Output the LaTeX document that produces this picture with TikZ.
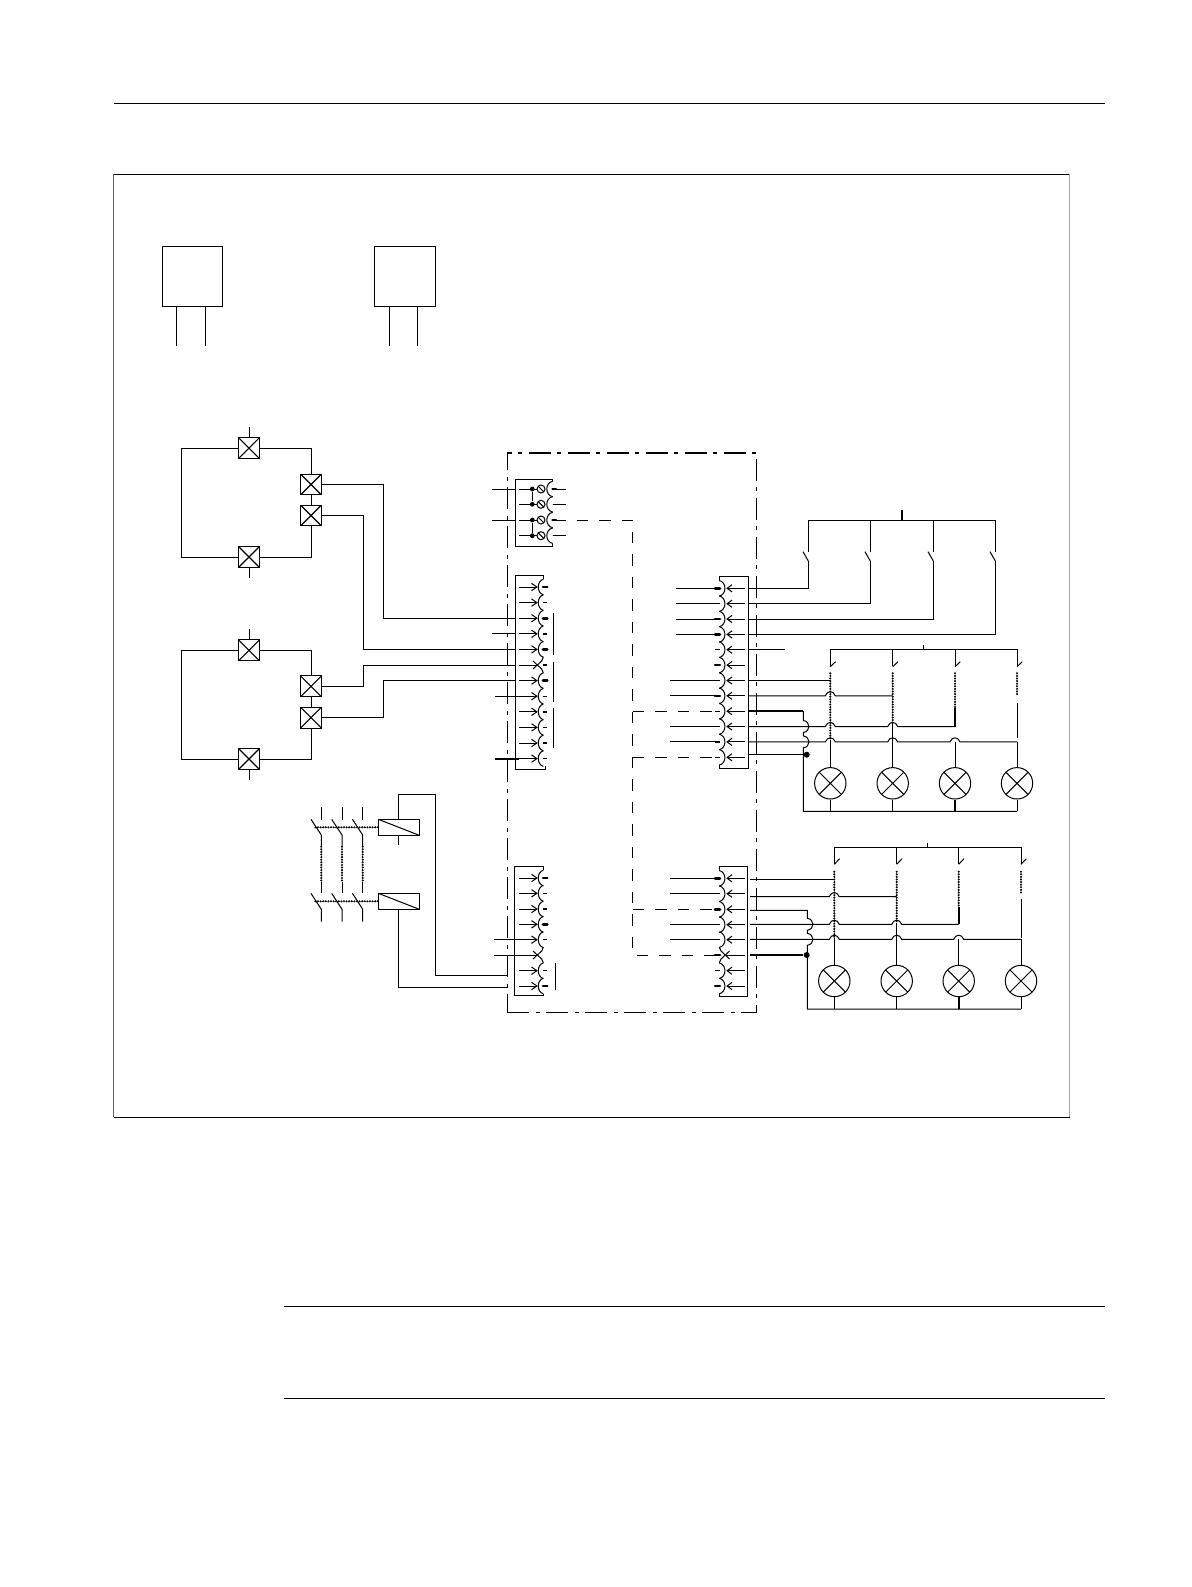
\documentclass[tikz,border=0pt]{standalone}
\usepackage{tikz}

\newcommand{\lterm}[2]{
  \draw (519,#1) -- (536.7,#1);
  \draw (531.5,#1-3.7) -- (536.9,#1) -- (531.5,#1+3.7);
  \draw (543.3,#1-7.8) .. controls (536.6,#1-6) and (536.6,#1+6) .. (543.3,#1+7.8);
  \draw[#2] (543,#1) -- (547.3,#1);
}
\newcommand{\lcross}[1]{
  \draw (519,#1) -- (537,#1);
  \draw (543.3,#1-7.8) -- (541.7,#1-4) -- (533,#1+4);
  \draw (543.3,#1+7.8) -- (541.7,#1+4) -- (533,#1-4);
}
\newcommand{\rterm}[2]{
  \draw (745,#1) -- (727.3,#1);
  \draw (732,#1-3.6) -- (727.1,#1) -- (732,#1+3.6);
  \draw (719.3,#1-7.8) .. controls (726.8,#1-6) and (726.8,#1+6) .. (719.3,#1+7.8);
  \draw[#2] (715,#1) -- (720,#1);
}
\newcommand{\rcross}[2]{
  \draw (745,#1) -- (726,#1);
  \draw (719.3,#1-7.8) -- (721,#1-4) -- (729.5,#1+4);
  \draw (719.3,#1+7.8) -- (721,#1+4) -- (729.5,#1-4);
  \draw[#2] (715,#1) -- (720,#1);
}
\newcommand{\hop}[2]{-- ([xshift=-5pt]#1|-#2) .. controls ([shift={(-3,-5.5)}]#1|-#2) and ([shift={(3,-5.5)}]#1|-#2) .. ([xshift=5pt]#1|-#2)}
\newcommand{\vhop}[2]{-- (#1,#2-6) .. controls (#1+7.5,#2-5) and (#1+7.5,#2+5) .. (#1,#2+6)}

\begin{document}
\begin{tikzpicture}[x=1pt, y=-1pt, line width=1pt,
  xmark/.style={path picture={\draw (path picture bounding box.north west) -- (path picture bounding box.south east) (path picture bounding box.south west) -- (path picture bounding box.north east);}},
  plainbox/.style={rectangle, draw, inner sep=0pt, minimum width=60pt, minimum height=60pt},
  square/.style={rectangle, draw, inner sep=0pt, minimum size=20.8pt, line width=1.1pt, xmark},
  lamp/.style={circle, draw, inner sep=0pt, minimum size=31.4pt, xmark},
  relay/.style={rectangle, draw, inner sep=0pt, minimum width=41pt, minimum height=16pt, path picture={\draw (path picture bounding box.north west) -- (path picture bounding box.south east);}},
  blob/.style={circle, fill, inner sep=0pt, minimum size=#1},
  panel/.style={rectangle, draw, inner sep=0pt, minimum width=249.2pt, minimum height=559.3pt, dash pattern=on 22pt off 7pt on 4pt off 6pt, line width=1.2pt},
  fat/.style={line width=2.6pt, line cap=round},
  lean/.style={line width=1.4pt},
  heavy/.style={line width=1.9pt},
  dashes/.style={dash pattern=on 11.5pt off 11pt},
  bead/.style={line width=2.3pt, line cap=round, dash pattern=on 0pt off 2.6pt}]
  \useasboundingbox (0,0) rectangle (1191,1587);

  \draw (113.5,103.5) -- (1105,103.5);
  \draw (283.5,1306) -- (1105,1306);
  \draw (283.5,1398) -- (1105,1398);
  \draw (113.5,174.3) -- (1069.5,174.3);
  \draw (113.5,1117.3) -- (1069.5,1117.3);
  \draw[black!60] (113.5,174.3) -- (113.5,1117.3);
  \draw[black!35] (1069.5,174.3) -- (1069.5,1117.3);

  \node[plainbox] (A) at (192.3,276.3) {};
  \node[plainbox, minimum width=61pt] (B) at (404.8,276.3) {};
  \draw ([xshift=-16pt]A.south) -- ++(0,39.4);
  \draw ([xshift=13pt]A.south) -- ++(0,39.4);
  \draw ([xshift=-15.5pt]B.south) -- ++(0,39.4);
  \draw ([xshift=12.5pt]B.south) -- ++(0,39.4);

  \node[panel] (P) at (631.9,732.6) {};

  \foreach \n/\ya/\yc/\yd/\yb in {1/448.2/484.5/515.5/557, 2/650.3/686.3/717.7/759} {
    \node[square] (q\n a) at (249,\ya) {};
    \node[square] (q\n b) at (249,\yb) {};
    \node[square] (q\n c) at (311,\yc) {};
    \node[square] (q\n d) at (311,\yd) {};
    \draw (q\n a.west) -- ++(-56.8,0) |- (q\n b.west);
    \draw (q\n a.east) -| (q\n c.north);
    \draw (q\n c.south) -- (q\n d.north);
    \draw (q\n d.south) |- (q\n b.east);
    \draw (q\n a.north) -- ++(0,-10.5);
    \draw (q\n b.south) -- ++(0,10.5);
  }

  % top terminal block
  \draw (552.7,481.2) -- (552.7,479) -- (515.3,479) -- (515.3,546.3) -- (552.7,546.3) -- (552.7,543.5);
  \foreach \i/\y/\s in {0/489/fat, 1/504.3/lean, 2/520/fat, 3/535.7/lean} {
    \coordinate (t\i) at (515.3,\y);
    \draw (519,\y) -- (537,\y);
    \node[blob=4.8pt] (td\i) at (532.3,\y) {};
    \node[circle, draw, inner sep=0pt, minimum size=8pt, path picture={\draw (path picture bounding box.north west) -- (path picture bounding box.south east);}] (tc\i) at (541,\y) {};
    \draw (552.7,\y-7.8) .. controls (544.8,\y-6) and (544.8,\y+6) .. (552.7,\y+7.8);
    \draw[\s] (552.5,\y) -- (556,\y);
    \draw (552.5,\y) -- (565.5,\y);
  }
  \draw (td0) -- (td1);
  \draw (td2) -- (td3);
  \draw (t0) -- ++(-23,0);
  \draw (t2) -- ++(-23,0);

  % first left block
  \draw (543.3,579.2) -- (543.3,575) -- (515.3,575) -- (515.3,769.3) -- (545,769.3) -- (545,766.4);
  \foreach \i/\y/\s in {0/587/fat, 1/602.6/lean, 2/618.2/fat, 3/633.8/lean, 4/649.4/fat, 6/680.6/fat, 7/696.2/lean, 8/711.8/lean, 9/727.4/lean, 10/743/lean, 11/758.6/lean} {
    \coordinate (a\i) at (515.3,\y);
    \lterm{\y}{\s}
  }
  \coordinate (a5) at (515.3,665);
  \lcross{665}
  \draw[lean] (543,665) -- (547.3,665);
  \draw (553.3,613) -- (553.3,655);
  \draw (553.3,661.7) -- (553.3,702.3);
  \draw (553.3,708.3) -- (553.3,748.3);
  \draw (a3) -- ++(-23,0);
  \draw (519,696.2) -- ++(-24.3,0);
  \draw[heavy] (519,758.6) -- ++(-24.3,0);

  \draw (q1c.east) -- ++(61.6,0) |- (a2);
  \draw (q1d.east) -- ++(41.6,0) |- (a4);
  \draw (q2c.east) -- ++(41.6,0) |- (a5);
  \draw (q2d.east) -- ++(61.6,0) |- (a6);

  % first right block
  \draw (719.3,580.5) -- (719.3,576.3) -- (748.3,576.3) -- (748.3,768.3) -- (719.3,768.3) -- (719.3,765.1);
  \foreach \i/\y/\s in {0/588.3/fat, 1/603.7/lean, 2/619/fat, 3/634.4/fat, 4/649.7/lean, 5/665.1/fat, 6/680.5/lean, 7/695.8/fat, 8/711.2/lean, 9/726.5/lean, 10/741.9/lean, 11/757.3/lean} {
    \coordinate (c\i) at (748.3,\y);
    \coordinate (cl\i) at (715,\y);
    \rterm{\y}{\s}
  }
  \foreach \i in {0,1,2,3} \draw (cl\i) -- ++(-39,0);
  \foreach \i in {6,7,9,10} \draw (cl\i) -- ++(-45.5,0);

  % feeder switches
  \draw (808.3,520.3) -- (995.3,520.3);
  \draw[heavy] (902,520.3) -- (902,510);
  \foreach \i/\x in {0/808.3, 1/870.3, 2/933.3, 3/995.3} {
    \coordinate (k\i) at (\x,561);
    \draw (\x,520.3) -- (\x,551.7);
    \draw (\x-5.3,551.7) -- (k\i);
    \draw (c\i) -| (k\i);
  }
  \draw (c4) -- ++(36.4,0);

  % first lamp group
  \node[lamp] (L1) at (830.3,783.3) {};
  \node[lamp] (L2) at (892.7,783.3) {};
  \node[lamp] (L3) at (955,783.3) {};
  \node[lamp] (L4) at (1017,783.3) {};
  \coordinate (busL) at (1017,811.3);
  \draw (830.3,649.3) -- (1017,649.3);
  \draw (923.3,649.3) -- (923.3,645);
  \foreach \x/\b in {830.3/740, 892.7/723, 955/708, 1017/695} {
    \draw (\x,649.3) -- (\x,665.7);
    \draw (\x,666.7) -- (\x+5.3,661.7);
    \draw[bead] (\x,673.3) -- (\x,\b);
  }
  \draw[heavy] (955,708) -- (c9-|L3);
  \draw (1017,703) -- (1017,738);
  \draw (c6) -- (L1|-c6);
  \draw (c7) \hop{L1}{c7} -- (L2|-c7);
  \draw (c9) \hop{L1}{c9} \hop{L2}{c9} -- (L3|-c9);
  \draw (c10) \hop{L1}{c10} \hop{L2}{c10} \hop{L3}{c10} -- (L4|-c10);
  \draw (830.3,740) -- (L1.north);
  \draw (892.7,723) -- (L2.north);
  \draw (L3|-c10) -- (L3.north);
  \draw (L4|-c10) -- (L4.north);
  \draw[heavy] (c8) -- (803.3,711.2);
  \draw (803.3,711.2) \vhop{803.3}{726.5} \vhop{803.3}{741.9} |- (busL);
  \node[blob=6pt] (dotL) at (806.7,754.7) {};
  \draw (c11|-dotL) -- (dotL);
  \foreach \n in {L1,L2,L4} \draw (\n.south) -- (\n|-busL);
  \draw[heavy] (L3.south) -- (L3|-busL);

  % contactors and coils
  \node[relay] (K1) at (398.8,827.3) {};
  \node[relay] (K2) at (398.8,901.3) {};
  \foreach \x in {321.3, 342, 362.7} {
    \draw (\x,806.7) -- (\x,820);
    \draw (\x-10.3,819.3) -- (\x,835) -- (\x,846.7);
    \draw[bead] (\x,846.7) -- (\x,882.3);
    \draw (\x,882.3) -- (\x,893.3);
    \draw (\x-10.3,893.3) -- (\x,909.3) -- (\x,921.7);
  }
  \draw[bead] (K1.west) -- ++(-63.5,0);
  \draw[bead] (K2.west) -- ++(-63.5,0);

  % second left block
  \draw (543.3,870.2) -- (543.3,866.3) -- (514.3,866.3) -- (514.3,995.3) -- (543.3,995.3) -- (543.3,993.8);
  \foreach \i/\y/\s in {0/878/fat, 1/893.3/lean, 2/909/lean, 3/924.3/fat, 4/939.7/lean, 6/970.7/lean, 7/986/fat} {
    \lterm{\y}{\s}
  }
  \lcross{955}
  \draw (519,939.7) -- ++(-24.7,0);
  \draw (519,955) -- ++(-25.3,0);
  \coordinate (d6) at (507.3,975.3);
  \coordinate (d7) at (507.3,987);
  \draw (555.3,963.3) -- (555.3,990);
  \draw (K1.north) |- (435.3,794.3) -- (435.3,975.3) -- (d6);
  \draw (K1.south) -- ++(0,8.7);
  \draw (K2.south) |- (d7);

  % second right block
  \draw (719.3,870.5) -- (719.3,866.3) -- (747.3,866.3) -- (747.3,996.3) -- (719.3,996.3) -- (719.3,993.8);
  \foreach \i/\y/\s in {0/878.3/fat, 1/893.7/lean, 2/909.3/fat, 3/924.7/lean, 4/939.7/lean, 6/970.7/lean, 7/986/fat} {
    \coordinate (el\i) at (715,\y);
    \rterm{\y}{\s}
  }
  \coordinate (el5) at (715,955);
  \rcross{955}{fat}
  \foreach \i in {0,1,3,4} \draw (el\i) -- ++(-45,0);
  \foreach \i/\y in {0/879.3, 1/896.7, 2/910.3, 3/924.3, 4/939.3, 5/955} \coordinate (f\i) at (750,\y);

  % second lamp group
  \node[lamp] (M1) at (834.3,981) {};
  \node[lamp] (M2) at (896.7,981) {};
  \node[lamp] (M3) at (958.7,981) {};
  \node[lamp] (M4) at (1021,981) {};
  \coordinate (busM) at (1021,1009);
  \draw (834.3,847.3) -- (1021,847.3);
  \draw (927.3,847.3) -- (927.3,843.3);
  \foreach \x/\b in {834.3/938, 896.7/923, 958.7/907, 1021/892.7} {
    \draw (\x,847.3) -- (\x,864.3);
    \draw (\x,864.3) -- (\x+5.3,858.7);
    \draw[bead] (\x,871.7) -- (\x,\b);
  }
  \draw[heavy] (958.7,907) -- (f3-|M3);
  \draw (1021,898.7) -- (1021,938);
  \draw (f0) -- (M1|-f0);
  \draw (f1) \hop{M1}{f1} -- (M2|-f1);
  \draw (f3) \hop{M1}{f3} \hop{M2}{f3} -- (M3|-f3);
  \draw (f4) \hop{M1}{f4} \hop{M2}{f4} \hop{M3}{f4} -- (M4|-f4);
  \draw (834.3,938) -- (M1.north);
  \draw (896.7,923) -- (M2.north);
  \draw (M3|-f4) -- (M3.north);
  \draw (M4|-f4) -- (M4.north);
  \draw (f2) -- (807.3,910.3) \vhop{807.3}{924.3} \vhop{807.3}{939.3} |- (busM);
  \node[blob=6pt] (dotM) at (806.7,955) {};
  \draw[heavy] (f5) -- (dotM);
  \foreach \n in {M1,M2,M4} \draw (\n.south) -- (\n|-busM);
  \draw[heavy] (M3.south) -- (M3|-busM);

  % dashed links
  \coordinate (tr2) at (576.7,520);
  \coordinate (dv) at (632.7,520);
  \draw[dashes] (tr2) -| (dv|-el5) -- (el5);
  \draw[dashes] (dv|-cl8) -- (cl8);
  \draw[dashes] (dv|-cl11) -- (cl11);
  \draw[dashes] (dv|-el2) -- (el2);
\end{tikzpicture}
\end{document}
